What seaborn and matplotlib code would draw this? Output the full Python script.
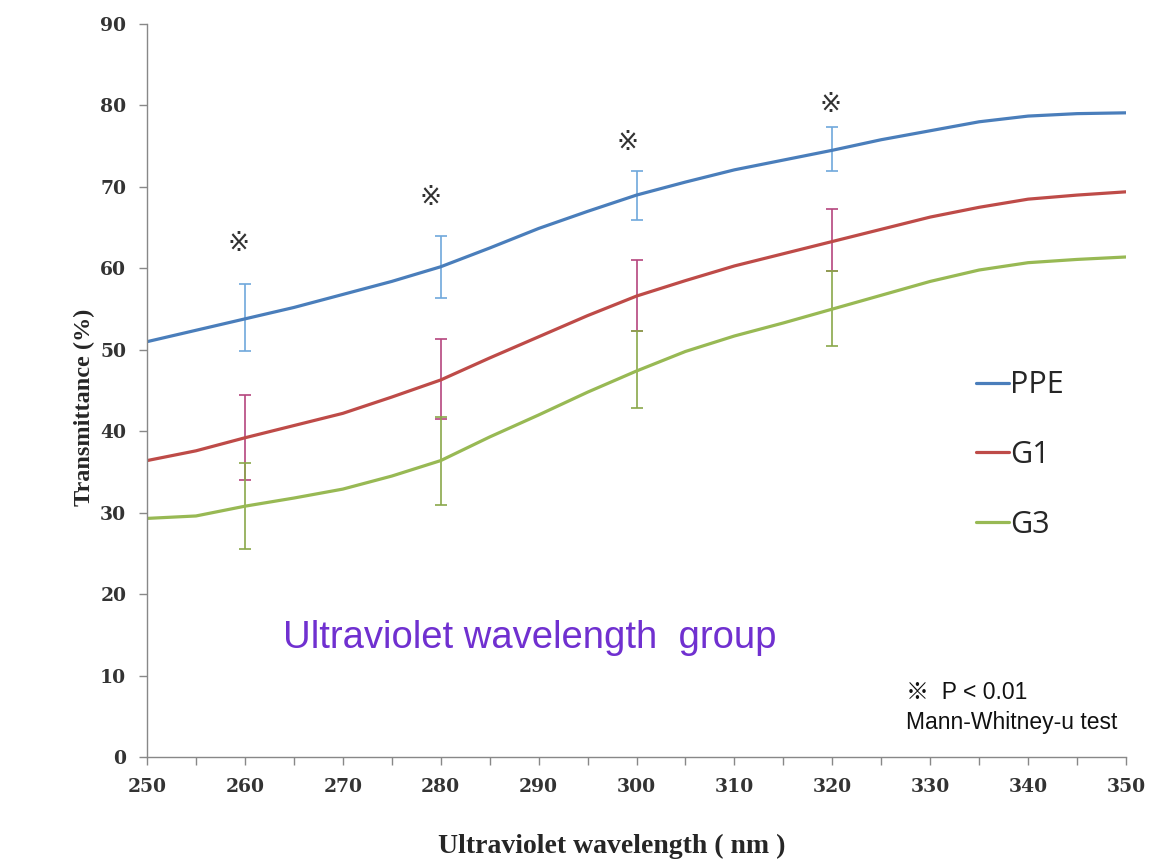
import numpy as np
import pandas as pd
import matplotlib
matplotlib.use("Agg")
import matplotlib.pyplot as plt
import seaborn as sns
from matplotlib.lines import Line2D

wavelength = [250, 255, 260, 265, 270, 275, 280, 285, 290, 295, 300,
              305, 310, 315, 320, 325, 330, 335, 340, 345, 350]
ppe = [51.0, 52.4, 53.8, 55.2, 56.8, 58.4, 60.2, 62.5, 64.9, 67.0, 69.0,
       70.6, 72.1, 73.3, 74.5, 75.8, 76.9, 78.0, 78.7, 79.0, 79.1]
g1 = [36.4, 37.6, 39.2, 40.7, 42.2, 44.2, 46.3, 49.0, 51.6, 54.2, 56.6,
      58.5, 60.3, 61.8, 63.3, 64.8, 66.3, 67.5, 68.5, 69.0, 69.4]
g3 = [29.3, 29.6, 30.8, 31.8, 32.9, 34.5, 36.4, 39.3, 42.0, 44.8, 47.4,
      49.8, 51.7, 53.3, 55.0, 56.7, 58.4, 59.8, 60.7, 61.1, 61.4]

err_x = [260, 280, 300, 320]
ppe_err_low = [49.8, 56.4, 66.0, 72.0]
ppe_err_high = [58.1, 64.0, 72.0, 77.3]
g1_err_low = [34.0, 41.5, 52.3, 59.7]
g1_err_high = [44.5, 51.3, 61.0, 67.3]
g3_err_low = [25.6, 31.0, 42.8, 50.5]
g3_err_high = [36.1, 41.8, 52.3, 59.7]

sig_x = [259.4, 279.0, 299.1, 319.8]
sig_y = [63.0, 68.6, 75.4, 80.1]

series_names = ["PPE", "G1", "G3"]
line_colors = {"PPE": "#4A7EBB", "G1": "#BE4B48", "G3": "#98B954"}
err_colors = {"PPE": "#6FA8DC", "G1": "#B5467E", "G3": "#8AA84A"}

sns.set_style("white")
plt.rcParams['font.family'] = ['DejaVu Sans', 'Noto Sans CJK SC']

df = pd.DataFrame({
    "wavelength": wavelength * 3,
    "value": ppe + g1 + g3,
    "group": ["PPE"] * len(wavelength) + ["G1"] * len(wavelength) + ["G3"] * len(wavelength),
})

fig = plt.figure(figsize=(11.55, 8.59), dpi=100)
ax = fig.add_axes([0.1273, 0.1187, 0.8476, 0.8533])

sns.lineplot(data=df, x="wavelength", y="value", hue="group", hue_order=series_names,
             palette=line_colors, linewidth=2.3, ax=ax, legend=False)

y_of = {"PPE": ppe, "G1": g1, "G3": g3}
lows = {"PPE": ppe_err_low, "G1": g1_err_low, "G3": g3_err_low}
highs = {"PPE": ppe_err_high, "G1": g1_err_high, "G3": g3_err_high}
for name in series_names:
    yc = [y_of[name][wavelength.index(x)] for x in err_x]
    lo = [c - l for c, l in zip(yc, lows[name])]
    hi = [h - c for c, h in zip(yc, highs[name])]
    ax.errorbar(err_x, yc, yerr=[lo, hi], fmt="none", ecolor=err_colors[name],
                elinewidth=1.2, capsize=4, capthick=1.2, zorder=1)

for x, y in zip(sig_x, sig_y):
    ax.text(x, y, "※", ha="center", va="center", fontsize=19, color="#333333",
            family=['DejaVu Sans', 'Noto Sans CJK SC'])

ax.set_xlim(250, 350)
ax.set_ylim(0, 90)
ax.set_xticks(np.arange(250, 351, 10))
ax.set_xticks(np.arange(250, 351, 5), minor=True)
ax.set_yticks(np.arange(0, 91, 10))
for s in ["top", "right"]:
    ax.spines[s].set_visible(False)
for s in ["left", "bottom"]:
    ax.spines[s].set_color("#888888")
    ax.spines[s].set_linewidth(1.0)
ax.tick_params(axis="both", which="both", direction="out", color="#888888",
               length=6, width=1.0, bottom=True, left=True)
for lab in ax.get_xticklabels() + ax.get_yticklabels():
    lab.set_family("DejaVu Serif")
    lab.set_fontweight("bold")
    lab.set_fontsize(13.5)
    lab.set_color("#333333")
ax.tick_params(axis="y", pad=9)
ax.tick_params(axis="x", pad=9)

ax.set_xlabel("Ultraviolet wavelength ( nm )", fontsize=20, fontweight="bold",
              family="Liberation Serif")
ax.xaxis.set_label_coords(0.475, -0.105)
ax.set_ylabel("Transmittance (%)", fontsize=17.5, fontweight="bold",
              family="Liberation Serif")
ax.yaxis.set_label_coords(-0.053, 0.477)

handles = [Line2D([0], [0], color=line_colors[n], linewidth=2.3) for n in series_names]
ax.legend(handles, series_names, loc="center left", bbox_to_anchor=(0.834, 0.412),
          frameon=False, prop={"family": "Open Sans", "size": 22},
          handlelength=1.08, handletextpad=0.05, labelspacing=1.3, borderaxespad=0)

ax.text(263.9, 14.6, "Ultraviolet wavelength  group", color="#7030D0", fontsize=27.5,
        family="Liberation Sans", ha="left", va="center")
ax.text(327.5, 7.9, "※  P < 0.01", fontsize=16.5, family=["Liberation Sans", "Noto Sans CJK SC"],
        ha="left", va="center", color="#111111")
ax.text(327.5, 4.3, "Mann-Whitney-u test", fontsize=16.5, family="Liberation Sans",
        ha="left", va="center", color="#111111")

fig.savefig("out.png", dpi=100)
